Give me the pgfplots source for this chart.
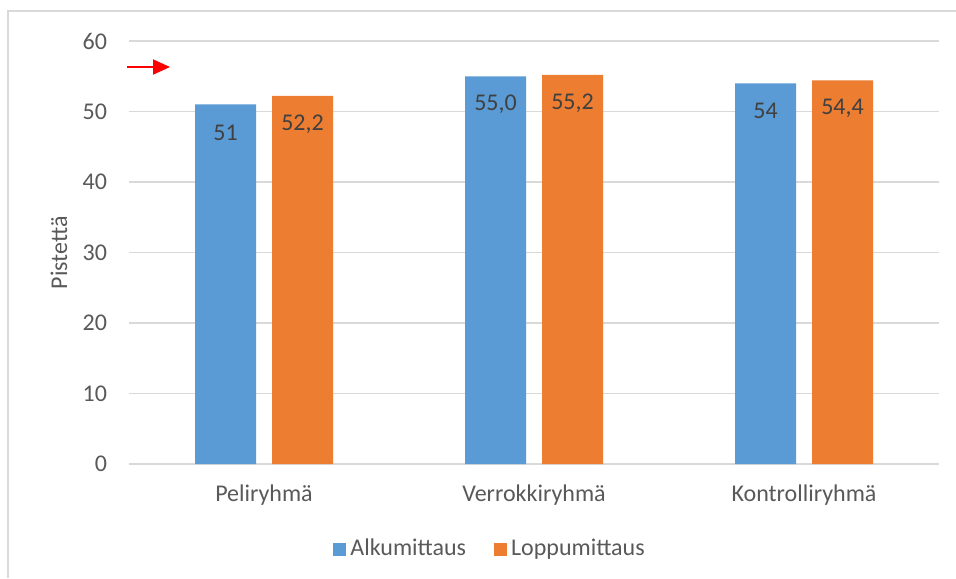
\documentclass[border=0pt]{standalone}
\usepackage{pgfplots}
\pgfplotsset{compat=1.18}
\usepackage{pgfplotstable}
\usepackage{fontspec}
\setmainfont{Carlito}
\usetikzlibrary{arrows.meta}

\definecolor{alku}{HTML}{5B9BD5}
\definecolor{loppu}{HTML}{ED7D31}
\definecolor{gridgray}{HTML}{D9D9D9}
\definecolor{ticktext}{HTML}{595959}
\definecolor{labeltext}{HTML}{404040}

% Ryhmien pistekeskiarvot alku- ja loppumittauksessa
\pgfplotstableread{
x  alku  alkulab  loppu  loppulab
0  51    51       52.2   52,2
1  55.0  55,0     55.2   55,2
2  54    54       54.4   54,4
}\pisteet

\begin{document}
\begin{tikzpicture}
\path[use as bounding box] (0,0) rectangle (478pt,289pt);
% chart frame
\draw[gridgray, line width=0.75pt] (4pt,0pt) -- (4pt,283.5pt) -- (478pt,283.5pt);
\begin{axis}[
  scale only axis,
  width=405pt, height=211.5pt,
  at={(64.5pt,57pt)}, anchor=south west,
  font=\fontsize{12}{14}\selectfont,
  ybar=8pt, bar width=30.5pt,
  xmin=-0.5, xmax=2.5, ymin=0, ymax=60,
  enlargelimits=false,
  xtick={0,1,2},
  xticklabels={Peliryhmä,Verrokkiryhmä,Kontrolliryhmä},
  ytick={0,10,...,60},
  axis line style={draw=none},
  major tick length=0pt,
  ymajorgrids,
  grid style={gridgray, line width=0.75pt},
  tick label style={text=ticktext},
  /pgf/number format/assume math mode=true,
  yticklabel style={xshift=-7.5pt},
  xticklabel style={yshift=-7pt},
  ylabel={Pistettä},
  ylabel style={at={(axis description cs:-0.0864,0.5)}, anchor=center, text=ticktext},
  clip=false,
  point meta=explicit symbolic,
  nodes near coords,
  every node near coord/.append style={anchor=center, yshift=-14pt, text=labeltext},
  legend columns=2,
  legend style={draw=none, fill=none, at={(0.447,-0.201)}, anchor=center,
    text=ticktext,
    /tikz/every even column/.append style={column sep=12pt}},
  legend image code/.code={\fill[#1] (0pt,-3.25pt) rectangle (6.5pt,3.25pt);},
]
\addplot[fill=alku, draw=none] table[x=x, y=alku, meta=alkulab] {\pisteet};
\addplot[fill=loppu, draw=none] table[x=x, y=loppu, meta=loppulab] {\pisteet};
\legend{Alkumittaus, Loppumittaus}
\draw[red, line width=1pt, -{Triangle[length=8.5pt, width=7.5pt]}]
  (axis cs:-0.5074,56.31) -- (axis cs:-0.3481,56.31);
\end{axis}
\end{tikzpicture}
\end{document}
